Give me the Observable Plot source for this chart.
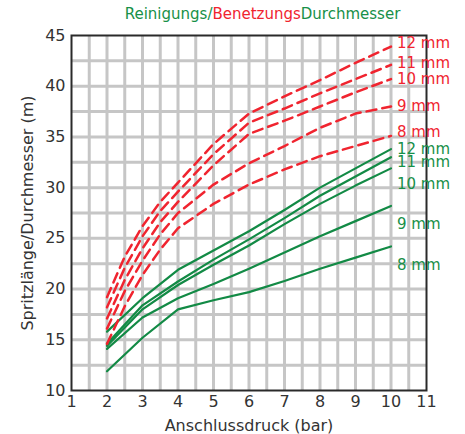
<!DOCTYPE html>
<html>
<head>
<meta charset="utf-8">
<script src="https://cdn.jsdelivr.net/npm/d3@7"></script>
<script src="https://cdn.jsdelivr.net/npm/@observablehq/plot@0.6"></script>
<style>
  html, body { margin: 0; padding: 0; background: #fff; }
  #wrap { position: relative; width: 465px; height: 434px; font-family: "DejaVu Sans", Verdana, sans-serif; }
  #title { position: absolute; left: 0; width: 465px; top: 5px; text-align: center; font-size: 15px; padding-left: 60px; box-sizing: border-box; }
  .g { color: #179048; }
  .r { color: #f0242f; }
</style>
</head>
<body>
<div id="wrap">
  <div id="chart"></div>
  <div id="title"><span class="g">Reinigungs/</span><span class="r">Benetzungs</span><span class="g">Durchmesser</span></div>
</div>
<script>
// Pressure (bar)
const xRed = [2, 2.5, 3, 3.5, 4, 5, 6, 7, 8, 9, 10];
const xGreen = [2, 3, 4, 5, 6, 7, 8, 9, 10];

// Benetzungsdurchmesser (red, dashed)
const red12 = [19.2, 23.2, 26.2, 28.6, 30.5, 34.3, 37.3, 39.0, 40.6, 42.3, 43.9];
const red11 = [18.2, 22.1, 25.2, 27.7, 29.6, 33.3, 36.4, 37.8, 39.3, 40.7, 42.1];
const red10 = [17.1, 20.9, 24.0, 26.6, 28.6, 32.2, 35.3, 36.6, 38.0, 39.4, 40.7];
const red9  = [16.1, 19.8, 22.8, 25.4, 27.5, 30.3, 32.4, 34.1, 35.9, 37.3, 38.0];
const red8  = [14.6, 18.3, 21.4, 23.9, 26.0, 28.4, 30.3, 31.8, 33.1, 34.1, 35.1];

// Reinigungsdurchmesser (green, solid)
const green12 = [15.8, 19.1, 21.9, 23.8, 25.7, 27.8, 30.0, 31.9, 33.8];
const green11 = [14.6, 18.4, 20.75, 22.9, 24.9, 27.0, 29.2, 31.1, 33.0];
const green10 = [14.4, 18.0, 20.4, 22.4, 24.3, 26.4, 28.4, 30.2, 31.9];
const green9  = [14.1, 17.2, 19.1, 20.5, 22.0, 23.6, 25.2, 26.7, 28.2];
const green8  = [11.9, 15.2, 18.0, 18.9, 19.7, 20.8, 22.0, 23.1, 24.2];

const nozzles = ["12 mm", "11 mm", "10 mm", "9 mm", "8 mm"];
const redLabelY = [44.2, 42.3, 40.7, 38.0, 35.5];
const greenLabelY = [33.8, 32.5, 30.3, 26.4, 22.4];

const xTicks = [1, 2, 3, 4, 5, 6, 7, 8, 9, 10, 11];
const yTicks = [10, 15, 20, 25, 30, 35, 40, 45];

const RED = "#f0242f";
const GREEN = "#128a45";
const GREEN_TEXT = "#179048";

const redSeries = [red12, red11, red10, red9, red8];
const greenSeries = [green12, green11, green10, green9, green8];

const redRows = redSeries.flatMap((s, i) => s.map((v, j) => ({x: xRed[j], y: v, k: nozzles[i]})));
const greenRows = greenSeries.flatMap((s, i) => s.map((v, j) => ({x: xGreen[j], y: v, k: nozzles[i]})));
const redLabels = nozzles.map((n, i) => ({x: 10, y: redLabelY[i], t: n}));
const greenLabels = nozzles.map((n, i) => ({x: 10, y: greenLabelY[i], t: n}));

const gridX = d3.range(1.5, 11, 0.5);
const gridY = d3.range(12.5, 45, 2.5);

const chart = Plot.plot({
  width: 465,
  height: 434,
  marginLeft: 71,
  marginRight: 39,
  marginTop: 35,
  marginBottom: 44,
  style: {fontFamily: "'DejaVu Sans', Verdana, sans-serif", fontSize: "16px", color: "#333", background: "#fff"},
  x: {domain: [1, 11]},
  y: {domain: [10, 45]},
  marks: [
    Plot.ruleX(gridX, {stroke: "#c6c6c6", strokeWidth: 3}),
    Plot.ruleY(gridY, {stroke: "#c6c6c6", strokeWidth: 3}),
    Plot.frame({stroke: "#2a2a2a", strokeWidth: 2}),
    Plot.axisX({ticks: xTicks, tickSize: 0, tickPadding: 5, fontSize: 16, label: null}),
    Plot.axisX({ticks: [], tickSize: 0, fontSize: 16, label: "Anschlussdruck (bar)", labelAnchor: "center", labelArrow: "none", labelOffset: 40}),
    Plot.axisY({ticks: yTicks, tickSize: 0, tickPadding: 6, fontSize: 16, label: null}),
    Plot.axisY({ticks: [], tickSize: 0, fontSize: 16, label: "Spritzlänge/Durchmesser (m)", labelAnchor: "center", labelArrow: "none", labelOffset: 50}),
    Plot.line(greenRows, {x: "x", y: "y", z: "k", stroke: GREEN, strokeWidth: 2.2}),
    Plot.line(redRows, {x: "x", y: "y", z: "k", stroke: RED, strokeWidth: 2.5, strokeDasharray: "10,6"}),
    Plot.text(redLabels, {x: "x", y: "y", text: "t", fill: RED, textAnchor: "start", dx: 6, fontSize: 15}),
    Plot.text(greenLabels, {x: "x", y: "y", text: "t", fill: GREEN_TEXT, textAnchor: "start", dx: 6, fontSize: 15})
  ]
});
document.getElementById("chart").appendChild(chart);
</script>
</body>
</html>
